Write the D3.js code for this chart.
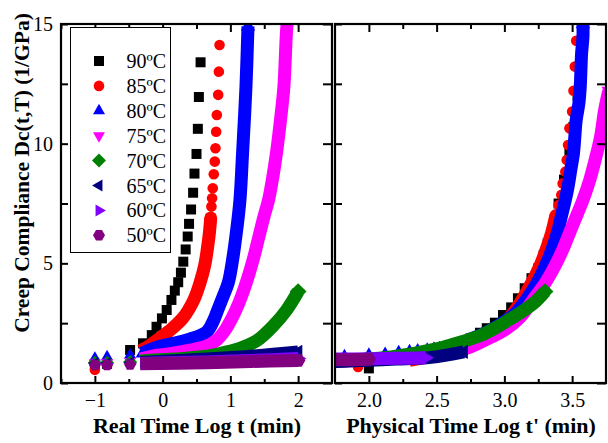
<!DOCTYPE html>
<html><head><meta charset="utf-8">
<script src="https://cdn.jsdelivr.net/npm/d3@7"></script>
<style>body{margin:0;background:#fff}svg{display:block}</style>
</head><body><svg id="c" width="608" height="443"></svg>
<script>
// ---------- data ----------
const temps  = ["90ºC","85ºC","80ºC","75ºC","70ºC","65ºC","60ºC","50ºC"];
const colors = ["#000000","#ff0000","#0000ff","#ff00ff","#008000","#000080","#7f00ff","#800080"];
const shapes = ["square","circle","up","down","diamond","left","right","hexagon"];

const xTicksLeft  = [-1, 0, 1, 2];
const xTicksRight = [2.0, 2.5, 3.0, 3.5];
const yTicks      = [0, 5, 10, 15];

// Left panel: real time log t
const ptsL90 = [[-1,0.8],[-0.82,0.8],[-0.48,1.38],[-0.29,1.66],[-0.16,2.0],[-0.09,2.35],[-0.01,2.7],[0.06,3.05],[0.13,3.47],[0.18,3.86],[0.23,4.21],[0.27,4.61],[0.305,5.07],[0.34,5.58],[0.37,6.12],[0.39,6.65],[0.42,7.25],[0.45,7.95],[0.47,8.75],[0.50,9.57],[0.52,10.62],[0.535,11.95],[0.56,13.4]];
const bandL90 = [];
const ptsL85 = [[-1,0.55],[-0.82,0.8],[-0.48,0.85],[0.72,7.37],[0.73,7.72],[0.74,8.14],[0.755,8.72],[0.77,9.25],[0.78,9.81],[0.79,10.5],[0.80,11.2],[0.82,12.04],[0.83,13.01],[0.84,14.12]];
const bandL85 = [[-0.33,1.35],[-0.2,1.55],[-0.09,1.78],[0.1,2.18],[0.3,2.72],[0.46,3.47],[0.55,4.17],[0.62,4.9],[0.66,5.6],[0.69,6.26],[0.71,6.9]];
const ptsL80 = [[-1,1.04],[-0.82,1.10],[-0.48,1.17],[-0.31,1.21]];
const bandL80 = [[-0.3,1.25],[-0.09,1.49],[0.16,1.66],[0.40,1.83],[0.65,2.14],[0.75,2.6],[0.82,3.1],[0.89,3.6],[0.97,4.2],[1.03,5.1],[1.08,6.1],[1.14,7.6],[1.18,9.6],[1.23,12.38],[1.26,14.9]];
const ptsL75 = [[-1,0.85],[-0.82,0.85],[-0.48,0.9]];
const bandL75 = [[-0.33,1.0],[-0.09,1.15],[0.16,1.25],[0.40,1.37],[0.65,1.55],[0.80,1.8],[0.92,2.2],[1.03,2.75],[1.12,3.3],[1.2,3.9],[1.28,4.6],[1.35,5.3],[1.42,6.1],[1.5,7.0],[1.56,7.6],[1.62,8.5],[1.68,9.6],[1.74,11.0],[1.79,12.38],[1.83,14.75],[1.85,15.3]];
const ptsL70 = [[-1,0.85],[-0.82,0.85],[-0.48,0.88]];
const bandL70 = [[-0.33,0.92],[0.16,1.0],[0.65,1.12],[0.90,1.27],[1.14,1.45],[1.39,1.77],[1.63,2.38],[1.83,3.05],[2.0,3.82]];
const ptsL65 = [[-1,0.82],[-0.82,0.82],[-0.48,0.85]];
const bandL65 = [[-0.33,0.86],[0.65,1.0],[1.3,1.12],[2.0,1.3]];
const ptsL60 = [[-1,0.8],[-0.82,0.8],[-0.48,0.8]];
const bandL60 = [[-0.33,0.82],[0.65,0.88],[1.3,0.94],[2.0,1.02]];
const ptsL50 = [[-1,0.75],[-0.82,0.75],[-0.48,0.77]];
const bandL50 = [[-0.33,0.8],[0.65,0.85],[1.3,0.9],[2.0,0.94]];

// Right panel: physical time log t'
const ptsR90 = [[2.0,0.61],[2.3,1.0],[2.5,1.3],[2.65,1.6],[2.75,1.85],[2.82,2.10],[2.87,2.29],[2.93,2.52],[2.99,2.84],[3.05,3.16],[3.10,3.54],[3.15,3.96],[3.20,4.38],[3.25,4.79],[3.29,5.35],[3.32,5.84],[3.36,6.6],[3.40,7.5],[3.44,8.5],[3.48,9.6],[3.51,10.7],[3.54,12.0],[3.57,13.56]];
const bandR90 = [];
const ptsR85 = [[1.92,0.67],[3.40,7.44],[3.42,7.86],[3.43,8.34],[3.45,8.83],[3.46,9.32],[3.47,9.94],[3.48,10.64],[3.50,11.34],[3.51,12.21],[3.52,13.22],[3.53,14.30]];
const bandR85 = [[2.3,0.95],[2.6,1.3],[2.85,1.9],[3.0,2.5],[3.1,3.2],[3.2,4.17],[3.26,4.86],[3.31,5.6],[3.35,6.3],[3.38,7.0]];
const ptsR80 = [[1.82,1.14],[2.0,1.20],[2.12,1.24],[2.22,1.31],[2.30,1.35],[2.36,1.38],[2.43,1.41],[2.48,1.45],[2.52,1.48],[2.56,1.52],[2.60,1.56],[2.64,1.59],[2.67,1.66],[2.71,1.73]];
const bandR80 = [[2.73,1.8],[2.86,2.1],[2.98,2.49],[3.08,2.91],[3.16,3.47],[3.24,4.17],[3.30,4.86],[3.35,5.56],[3.39,6.26],[3.42,6.95],[3.45,7.65],[3.47,8.2],[3.49,8.9],[3.51,9.6],[3.52,10.29],[3.53,10.99],[3.55,11.69],[3.56,12.38],[3.565,13.08],[3.57,13.78],[3.58,14.47],[3.58,15.0]];
const ptsR75 = [];
const bandR75 = [[1.75,0.9],[2.0,0.97],[2.3,1.1],[2.55,1.27],[2.72,1.45],[2.86,1.80],[3.00,2.21],[3.12,2.77],[3.21,3.47],[3.30,4.17],[3.37,4.86],[3.43,5.56],[3.48,6.26],[3.53,6.95],[3.58,7.65],[3.63,8.48],[3.67,9.32],[3.71,10.29],[3.74,11.41],[3.77,12.2]];
const ptsR70 = [];
const bandR70 = [[1.75,0.9],[2.0,1.0],[2.2,1.12],[2.49,1.42],[2.61,1.6],[2.73,1.80],[2.83,2.0],[2.93,2.29],[3.03,2.63],[3.13,2.98],[3.23,3.40],[3.30,3.82]];
const ptsR65 = [];
const bandR65 = [[1.75,0.9],[2.0,0.95],[2.2,1.0],[2.46,1.07],[2.70,1.30]];
const ptsR60 = [];
const bandR60 = [[1.75,1.0],[2.0,1.01],[2.2,1.03],[2.42,1.05]];
const ptsR50 = [];
const bandR50 = [[1.75,0.97],[1.9,0.98],[2.0,0.99]];

const leftPts   = [ptsL90,ptsL85,ptsL80,ptsL75,ptsL70,ptsL65,ptsL60,ptsL50];
const leftBand  = [bandL90,bandL85,bandL80,bandL75,bandL70,bandL65,bandL60,bandL50];
const rightPts  = [ptsR90,ptsR85,ptsR80,ptsR75,ptsR70,ptsR65,ptsR60,ptsR50];
const rightBand = [bandR90,bandR85,bandR80,bandR75,bandR70,bandR65,bandR60,bandR50];

// ---------- drawing ----------
const svg = d3.select("#c");
const plotTop = 24, plotBottom = 383;
const y = d3.scaleLinear([0, 15], [plotBottom, plotTop]);
const xL = d3.scaleLinear([-1.5, 2.5], [61, 332]);
const xR = d3.scaleLinear([1.75, 3.75], [335, 606]);

const serif = "'Liberation Serif','Times New Roman',Times,serif";

function shapePath(kind) {
  const w = 6, h = 10.4;
  let p;
  switch (kind) {
    case "square": return d3.symbol(d3.symbolSquare, 100)();
    case "circle": return d3.symbol(d3.symbolCircle, Math.PI * 5.3 * 5.3)();
    case "up":    p = [[0,-h*2/3],[w,h/3],[-w,h/3]]; break;
    case "down":  p = [[0,h*2/3],[w,-h/3],[-w,-h/3]]; break;
    case "left":  p = [[-h*2/3,0],[h/3,-w],[h/3,w]]; break;
    case "right": p = [[h*2/3,0],[-h/3,-w],[-h/3,w]]; break;
    case "diamond": p = [[0,-7],[7,0],[0,7],[-7,0]]; break;
    case "hexagon": p = d3.range(6).map(i => [6*Math.cos(i*Math.PI/3), 6*Math.sin(i*Math.PI/3)]); break;
  }
  return "M" + p.map(q => q.join(",")).join("L") + "Z";
}

const defs = svg.append("defs");
defs.append("clipPath").attr("id","clipL").append("rect")
  .attr("x",61).attr("y",plotTop).attr("width",332-61).attr("height",plotBottom-plotTop);
defs.append("clipPath").attr("id","clipR").append("rect")
  .attr("x",335).attr("y",plotTop).attr("width",606-335).attr("height",plotBottom-plotTop);

function drawPanel(xs, clipId, ptsArr, bandArr) {
  const g = svg.append("g").attr("clip-path", `url(#${clipId})`);
  const line = d3.line().x(d => xs(d[0])).y(d => y(d[1])).curve(d3.curveCatmullRom);
  temps.forEach((t, i) => {
    const band = bandArr[i];
    if (band.length) {
      g.append("path").attr("d", line(band)).attr("fill","none")
        .attr("stroke", colors[i]).attr("stroke-width", 13)
        .attr("stroke-linejoin","round").attr("stroke-linecap","butt");
      const last = band[band.length-1];
      g.append("path").attr("d", shapePath(shapes[i]))
        .attr("transform", `translate(${xs(last[0])},${y(last[1])}) scale(1.2)`)
        .attr("fill", colors[i]);
    }
    g.selectAll(null).data(ptsArr[i]).join("path")
      .attr("d", shapePath(shapes[i]))
      .attr("transform", d => `translate(${xs(d[0])},${y(d[1])})`)
      .attr("fill", colors[i]);
  });
}
drawPanel(xL, "clipL", leftPts, leftBand);
drawPanel(xR, "clipR", rightPts, rightBand);

// axes
function styleAxis(sel) {
  sel.select(".domain").remove();
  sel.selectAll(".tick line").attr("stroke","#000").attr("stroke-width",2);
  sel.selectAll(".tick text").attr("font-family", serif).attr("font-size", 20).attr("fill","#000");
}
function addAxis(axis, tx, ty) {
  svg.append("g").attr("transform", `translate(${tx},${ty})`).call(axis).call(styleAxis);
}
const noLab = () => "";
// left panel x
addAxis(d3.axisBottom(xL).tickValues([-1.5,-0.5,0.5,1.5]).tickSize(-4).tickFormat(noLab), 0, plotBottom);
addAxis(d3.axisBottom(xL).tickValues(xTicksLeft).tickSize(-7).tickPadding(10).tickFormat(d3.format("d")), 0, plotBottom);
addAxis(d3.axisTop(xL).tickValues([-1.5,-0.5,0.5,1.5]).tickSize(-5).tickFormat(noLab), 0, plotTop);
addAxis(d3.axisTop(xL).tickValues(xTicksLeft).tickSize(-8).tickFormat(noLab), 0, plotTop);
// right panel x
addAxis(d3.axisBottom(xR).tickValues([2.25,2.75,3.25]).tickSize(-4).tickFormat(noLab), 0, plotBottom);
addAxis(d3.axisBottom(xR).tickValues(xTicksRight).tickSize(-7).tickPadding(10).tickFormat(d3.format(".1f")), 0, plotBottom);
addAxis(d3.axisTop(xR).tickValues([2.25,2.75,3.25]).tickSize(-5).tickFormat(noLab), 0, plotTop);
addAxis(d3.axisTop(xR).tickValues(xTicksRight).tickSize(-8).tickFormat(noLab), 0, plotTop);
// y axes
const yMinor = [2.5, 7.5, 12.5];
addAxis(d3.axisLeft(y).tickValues(yTicks).tickSize(-7).tickPadding(8).tickFormat(d3.format("d")), 61, 0);
addAxis(d3.axisLeft(y).tickValues(yMinor).tickSize(-7).tickFormat(noLab), 61, 0);
addAxis(d3.axisRight(y).tickValues(yTicks.concat(yMinor)).tickSize(-9).tickFormat(noLab), 332, 0);
addAxis(d3.axisLeft(y).tickValues(yTicks.concat(yMinor)).tickSize(-7).tickFormat(noLab), 335, 0);
addAxis(d3.axisRight(y).tickValues(yTicks.concat(yMinor)).tickSize(-9).tickFormat(noLab), 606, 0);

// frames
[[61,332],[335,606]].forEach(([a,b]) => {
  svg.append("rect").attr("x",a).attr("y",plotTop).attr("width",b-a).attr("height",plotBottom-plotTop)
    .attr("fill","none").attr("stroke","#000").attr("stroke-width",2.2);
});

// legend
const lg = svg.append("g");
lg.append("rect").attr("x",70.5).attr("y",27.5).attr("width",100).attr("height",225)
  .attr("fill","#fff").attr("stroke","#000").attr("stroke-width",1);
temps.forEach((t, i) => {
  const cy = 61 + i * 24.9;
  lg.append("path").attr("d", shapePath(shapes[i]))
    .attr("transform", `translate(99,${cy})`).attr("fill", colors[i]);
  lg.append("text").attr("x",126.5).attr("y",cy+7).text(t)
    .attr("font-family", serif).attr("font-size",20).attr("fill","#000");
});

// titles
svg.append("text").attr("transform","translate(29,173) rotate(-90)")
  .attr("text-anchor","middle").attr("font-family",serif).attr("font-weight","bold")
  .attr("font-size",21.5).text("Creep Compliance Dc(t,T) (1/GPa)");
svg.append("text").attr("x",197).attr("y",433).attr("text-anchor","middle")
  .attr("font-family",serif).attr("font-weight","bold").attr("font-size",22)
  .text("Real Time Log t (min)");
svg.append("text").attr("x",471).attr("y",433).attr("text-anchor","middle")
  .attr("font-family",serif).attr("font-weight","bold").attr("font-size",22)
  .text("Physical Time Log t' (min)");
</script></body></html>
